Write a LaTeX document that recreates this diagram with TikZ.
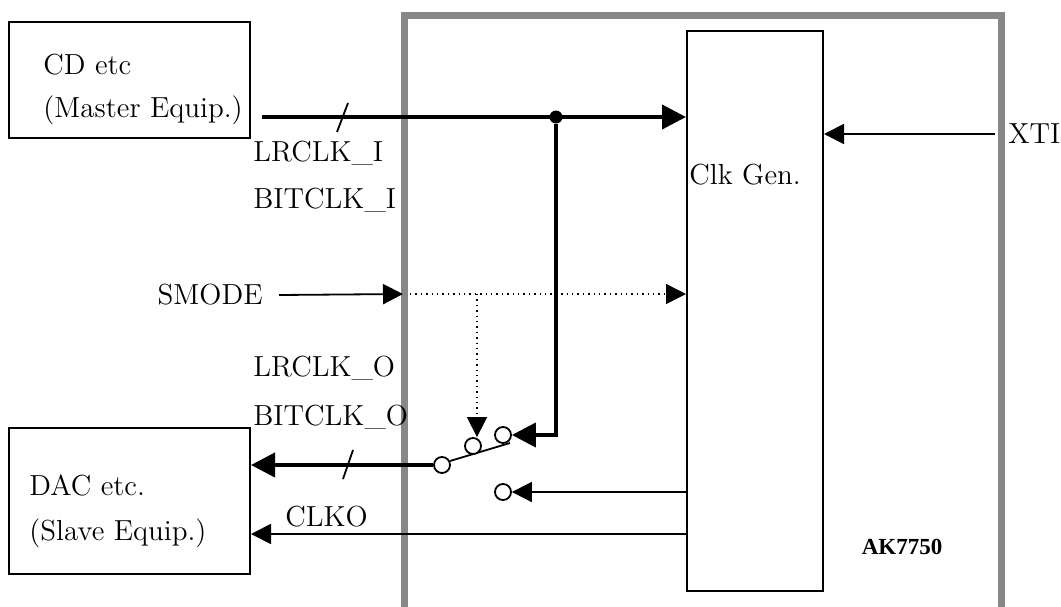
\documentclass[tikz,border=0pt]{standalone}
\usepackage{fontspec}
\newfontfamily\tmsfont{Liberation Serif}
\usetikzlibrary{positioning,arrows.meta}
\tikzset{
  bx/.style={rectangle, draw=black, line width=1pt, inner sep=0pt},
  lb/.style={anchor=west, inner sep=0pt, font=\fontsize{14.5}{17}\selectfont},
  ct/.style={circle, draw=black, line width=0.9pt, fill=white, minimum size=8pt, inner sep=0pt},
  jd/.style={circle, fill=black, minimum size=6.5pt, inner sep=0pt},
  bus/.style={line width=2pt, -{Triangle[length=12pt,width=12pt]}},
  sg/.style={line width=0.9pt, -{Triangle[length=10pt,width=10pt]}},
  ctl/.style={line width=0.7pt, dotted, -{Triangle[length=10pt,width=10pt]}},
  chip/.style={line width=3.5pt, draw=black!47}
}

\begin{document}
\begin{tikzpicture}[x=0.5pt, y=-0.5pt]
	\useasboundingbox (0,0) rectangle (1061,606);
	\draw[chip] (404,620) |- (1001,15) -- (1001,620);
	%
	\node[bx, minimum width=120.5pt, minimum height=58pt] (cd) at (129.5,80) {};
	\node[bx, minimum width=120.5pt, minimum height=73pt] (dac) at (129.5,501) {};
	\node[bx, minimum width=68pt, minimum height=280pt] (gen) at (755,311) {};
	\node[lb] (cdtxt) at (43,65) {CD etc};
	\node[lb] (mastxt) at (43,110) {(Master Equip.)};
	\node[lb] (dactxt) at (29,485) {DAC etc.};
	\node[lb] (slvtxt) at (29,533) {(Slave Equip.)};
	\node[lb] (gentxt) at (689,175) {Clk Gen.};
	\node[lb] (lri) at (253,153) {LRCLK\_I};
	\node[lb] (bci) at (253,200) {BITCLK\_I};
	\node[lb, anchor=east] (smode) at (263,295) {SMODE};
	\node[lb] (lro) at (253,368) {LRCLK\_O};
	\node[lb] (bco) at (253,417) {BITCLK\_O};
	\node[lb] (clko) at (285,517) {CLKO};
	\node[lb] (xti) at (1008,134) {XTI};
	\node[inner sep=0pt, font=\tmsfont\bfseries\fontsize{11.5}{13}\selectfont] (chipname) at (902,547) {AK7750};
	%
	\coordinate (in1) at (262,117);
	\coordinate (smin) at (403,294);
	\coordinate (sel) at (410,294);
	\coordinate (tap) at (477,294);
	\coordinate (clk) at (687,534);
	\coordinate (xin) at (995,134);
	%
	\draw[line width=0.9pt] (450,461) -- (510,443);
	\node[ct] (s1) at (442,465) {};
	\node[ct] (s2) at (473,446) {};
	\node[ct] (s3) at (503,435) {};
	\node[ct] (s4) at (503,492) {};
	%
	\draw[bus] (in1) -- (in1 -| gen.west);
	\node[jd] (jn) at (556,117) {};
	\draw[bus] (jn) |- (s3.east);
	\draw[bus] (s1.west) -- (s1.west -| dac.east);
	\draw[line width=0.9pt] (337,132) -- ++(11,-29);
	\draw[line width=0.9pt] (343,479) -- ++(10,-29);
	\draw[sg] (xin) -- (xin -| gen.east);
	\draw[sg] ([xshift=8pt]smode.east) -- (smin);
	\draw[ctl] (sel) -- (sel -| gen.west);
	\draw[ctl] (tap) -- (tap |- s2.north);
	\draw[sg] (gen.west |- s4) -- (s4.east);
	\draw[sg] (clk) -- (clk -| dac.east);
\end{tikzpicture}
\end{document}
